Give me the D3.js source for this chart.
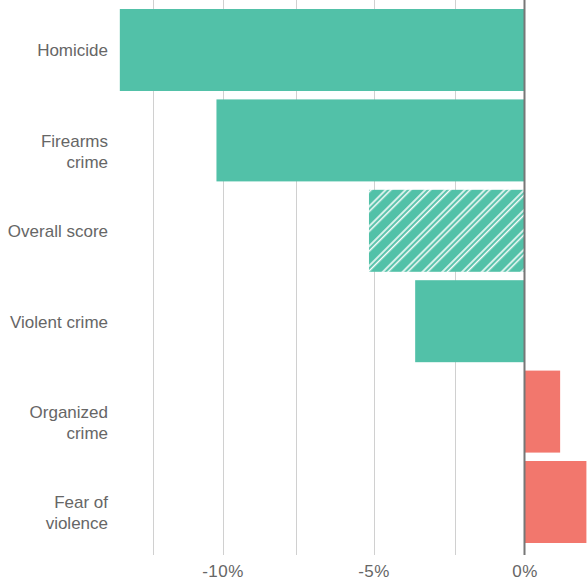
<!DOCTYPE html>
<html>
<head>
<meta charset="utf-8">
<script src="https://cdn.jsdelivr.net/npm/d3@7"></script>
<style>
body { margin: 0; background: #fff; }
text { font-family: "Liberation Sans", Arial, sans-serif; fill: #666; }
</style>
</head>
<body>
<div class="container"></div>
<script>
const WIDTH = 587;
const HEIGHT = 582;

var categories = [["Homicide"], ["Firearms", "crime"], ["Overall score"], ["Violent crime"], ["Organized", "crime"], ["Fear of", "violence"]];
var values = [-13.4, -10.2, -5.15, -3.62, 1.18, 2.05];
var hatched = [false, false, true, false, false, false];
var gridValues = [-12.3, -10, -7.55, -5, -2.3, 0];
var tickValues = [-10, -5, 0];

var translate = function(x, y){
	return "translate(" + x + "," + y + ")";
};

var svg = d3.select('.container').append('svg')
	.attr('width', WIDTH)
	.attr('height', HEIGHT);

var xScale = d3.scaleLinear()
	.domain([-10, 0])
	.range([222.5, 524.5]);

var yScale = d3.scaleBand()
	.domain(d3.range(categories.length))
	.range([0.6, 551.4])
	.paddingInner(0.093)
	.paddingOuter(0.093);

var defs = svg.append('defs');
var pat = defs.append('pattern')
	.attr('id', 'hatch')
	.attr('patternUnits', 'userSpaceOnUse')
	.attr('width', 14)
	.attr('height', 14)
	.attr('patternTransform', 'rotate(45)');
pat.append('rect').attr('width', 14).attr('height', 14).attr('fill', '#52c1a8');
[1, 4.6].forEach(function(x){
	pat.append('line')
		.attr('x1', x).attr('x2', x)
		.attr('y1', 0).attr('y2', 14)
		.attr('stroke', '#fff')
		.attr('stroke-width', 1.5);
});

// gridlines
svg.append('g').selectAll('line')
	.data(gridValues.filter(function(v){ return v !== 0; }))
	.enter().append('line')
	.attr('x1', function(d){ return Math.round(xScale(d)) + 0.5; })
	.attr('x2', function(d){ return Math.round(xScale(d)) + 0.5; })
	.attr('y1', 0)
	.attr('y2', 555)
	.attr('stroke', '#d0d0d0')
	.attr('stroke-width', 1);

// bars
svg.append('g').selectAll('rect')
	.data(values)
	.enter().append('rect')
	.attr('x', function(d){ return xScale(Math.min(0, d)); })
	.attr('width', function(d){ return Math.abs(xScale(d) - xScale(0)); })
	.attr('y', function(d, i){ return yScale(i); })
	.attr('height', yScale.bandwidth())
	.attr('fill', function(d, i){
		if (hatched[i]) return 'url(#hatch)';
		return d < 0 ? '#52c1a8' : '#f2776d';
	});

// zero line
svg.append('line')
	.attr('x1', xScale(0)).attr('x2', xScale(0))
	.attr('y1', 0).attr('y2', 555)
	.attr('stroke', '#777')
	.attr('stroke-width', 2);

// x tick labels
var xAxis = d3.axisBottom(xScale)
	.tickValues(tickValues)
	.tickSize(0)
	.tickPadding(0)
	.tickFormat(function(d){ return d + '%'; });

var gx = svg.append('g')
	.attr('transform', translate(0, 565))
	.call(xAxis);
gx.select('.domain').remove();
gx.selectAll('text')
	.attr('dy', '0.71em')
	.style('font-size', '17px')
	.style('letter-spacing', '0.5px')
	.attr('fill', '#666');

// category labels
var labels = svg.append('g').selectAll('text')
	.data(categories)
	.enter().append('text')
	.attr('text-anchor', 'end')
	.style('font-size', '17px')
	.attr('transform', function(d, i){
		var cy = yScale(i) + yScale.bandwidth() / 2;
		return translate(108, cy);
	});

labels.selectAll('tspan')
	.data(function(d){ return d; })
	.enter().append('tspan')
	.attr('x', 0)
	.attr('y', function(d, j){ return j * 21; })
	.attr('dy', '0.38em')
	.text(function(d){ return d; });
</script>
</body>
</html>
